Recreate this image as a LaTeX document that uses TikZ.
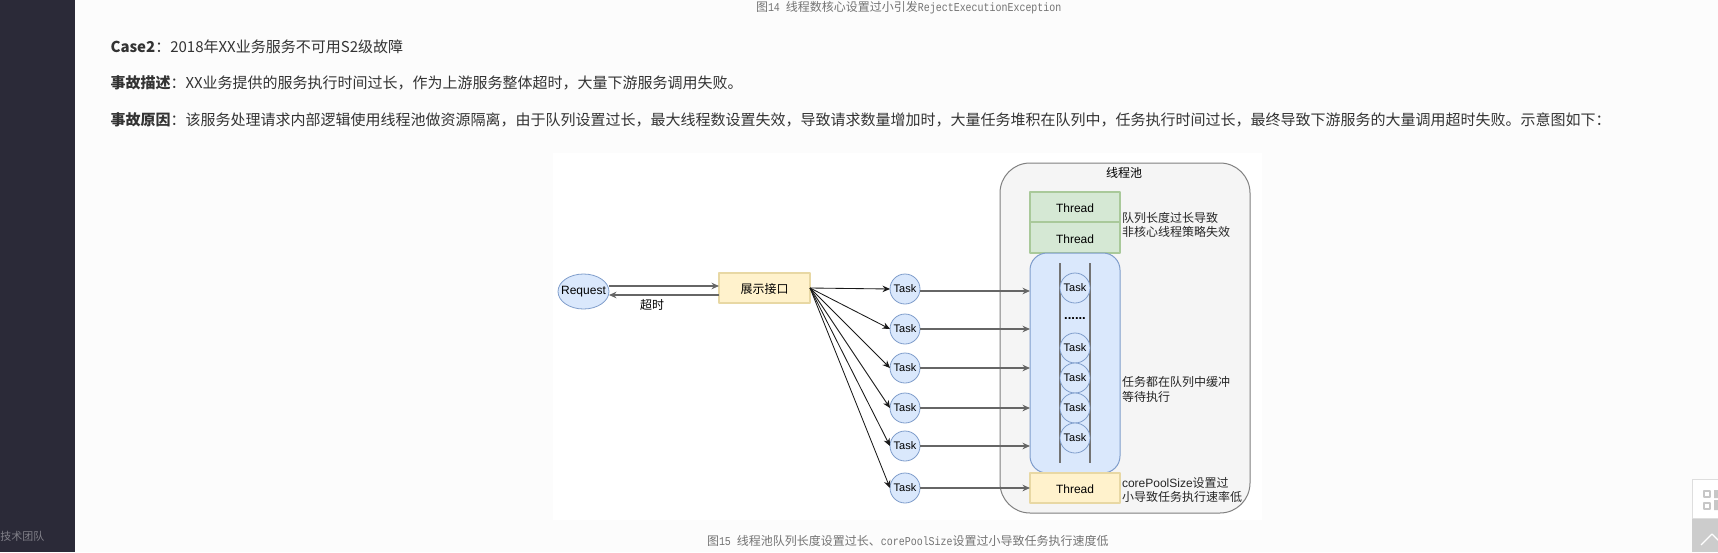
\documentclass[tikz,border=0pt]{standalone}
\usepackage{fontspec}
\usetikzlibrary{shapes.geometric,arrows.meta}
\setmainfont{Liberation Sans}
\newfontfamily\cjk{Noto Sans CJK SC}
\newfontfamily\capmono[FakeStretch=0.83]{Liberation Mono}
\definecolor{sidebg}{HTML}{2B2A38}
\definecolor{bluefill}{HTML}{DAE8FC}
\definecolor{bluedraw}{HTML}{7F9DCB}
\definecolor{greenfill}{HTML}{D5E8D4}
\definecolor{greendraw}{HTML}{A9C99A}
\definecolor{yellowfill}{HTML}{FFF2CC}
\definecolor{yellowdraw}{HTML}{E8D8A4}
\definecolor{poolfill}{HTML}{F5F5F5}
\newcommand{\zh}[1]{{\cjk\fontsize{12}{14}\selectfont #1}}
\begin{document}
\begin{tikzpicture}[x=1pt,y=-1pt,>={Stealth[length=7.5pt,width=6.5pt]},line join=round,
	every node/.style={outer sep=0pt,inner sep=0pt},
	task/.style={circle,draw=bluedraw,fill=bluefill,line width=.8pt,minimum size=30pt,font=\fontsize{11}{13}\selectfont},
	thread/.style={draw=#1draw,fill=#1fill,line width=1.3pt,minimum width=90pt,minimum height=30pt,text height=11pt,text depth=0pt,font=\fontsize{12}{14}\selectfont},
	note/.style={anchor=west,align=left,text=black!85,font=\fontsize{12}{14.3}\selectfont},
	para/.style={anchor=base west,text=black!80,font=\cjk\fontsize{15}{18}\selectfont},
	capt/.style={anchor=base west,text=black!55,font=\capmono\fontsize{12}{14}\selectfont},
	flow/.style={->,black!60,line width=1.300pt},
	fan/.style={->,black!90,line width=.85pt}]
	\useasboundingbox (0,0) rectangle (1718,552);
	\fill[white!99!black] (0,0) rectangle (1718,552);
	\fill[white] (553,153) rectangle (1262,520);
	\fill[sidebg] (0,0) rectangle (75,552);
	\node[anchor=west,text=white!40!sidebg,font=\cjk\fontsize{11}{14}\selectfont] (team) at (0.500,536) {技术团队};
	% page text
	\node[capt] (capa) at (756,11) {\zh{图}14 \zh{线程数核心设置过小引发}RejectExecutionException};
	\node[para] (linea) at (110.500,52) {{\bfseries Case2}：2018年XX业务服务不可用S2级故障};
	\node[para] (lineb) at (110.500,88) {{\bfseries 事故描述}：XX业务提供的服务执行时间过长，作为上游服务整体超时，大量下游服务调用失败。};
	\node[para] (linec) at (110.500,125) {{\bfseries 事故原因}：该服务处理请求内部逻辑使用线程池做资源隔离，由于队列设置过长，最大线程数设置失效，导致请求数量增加时，大量任务堆积在队列中，任务执行时间过长，最终导致下游服务的大量调用超时失败。示意图如下：};
	\node[capt] (capb) at (707,545) {\zh{图}15 \zh{线程池队列长度设置过长、}corePoolSize\zh{设置过小导致任务执行速度低}};
	% left side
	\node[ellipse,draw=bluedraw,fill=bluefill,line width=.8pt,inner xsep=-8pt,minimum width=51pt,minimum height=35pt,font=\fontsize{12}{14}\selectfont] (req) at (583.500,291.500) {Request};
	\node[thread=yellow,minimum width=91pt] (iface) at (764.500,288) {\zh{展示接口}};
	\draw[flow] ([yshift=5.500pt]req.east) -- ([yshift=2pt]iface.west);
	\draw[flow] ([yshift=-7pt]iface.west) -- ([yshift=-3.500pt]req.east);
	\node (timeout) at (652,305) {\zh{超时}};
	% pool
	\node[rectangle,draw=black!50,fill=poolfill,line width=1pt,rounded corners=30pt,minimum width=250pt,minimum height=350pt] (pool) at (1125,338) {};
	\node (poolname) at (1124,173) {\zh{线程池}};
	\node[thread=green] (threada) at (1075,207) {Thread};
	\node[thread=green,minimum height=31pt] (threadb) at (1075,237.500) {Thread};
	\node[draw=bluedraw,fill=bluefill,line width=1pt,rounded corners=17pt,minimum width=90pt,minimum height=220pt] (queue) at (1075,363) {};
	\node[thread=yellow] (threadc) at (1075,488) {Thread};
	\draw[black!55,line width=1.200pt] ([xshift=-15pt,yshift=-10pt]queue.north) -- ([xshift=-15pt,yshift=10pt]queue.south);
	\draw[black!55,line width=1.200pt] ([xshift=15pt,yshift=-10pt]queue.north) -- ([xshift=15pt,yshift=10pt]queue.south);
	\foreach \i/\y in {a/288,b/348,c/378,d/408,e/438}
		\node[task] (wait\i) at (1075,\y) {Task};
	\node[font=\bfseries\fontsize{13}{13}\selectfont] (dots) at (1075,319) {......};
	\node[note] (notea) at (1122,225) {\zh{队列长度过长导致}\\\zh{非核心线程策略失效}};
	\node[note] (noteb) at (1122,389.500) {\zh{任务都在队列中缓冲}\\\zh{等待执行}};
	\node[note] (notec) at (1122,490) {corePoolSize\zh{设置过}\\\zh{小导致任务执行速率低}};
	% incoming tasks
	\foreach \i/\y/\d in {1/289/-2,2/329/0,3/368/0,4/408/0,5/446/0}{
		\node[task] (task\i) at (905,\y) {Task};
		\draw[fan] (iface.east) -- (task\i.west);
		\draw[flow] ([yshift=\d pt]task\i.east) -- ([yshift=\d pt]task\i.east -| queue.west);
	}
	\node[task] (task6) at (905,488) {Task};
	\draw[fan] (iface.east) -- (task6.west);
	\draw[flow] (task6.east) -- (threadc.west);
	% corner widget
	\fill[black!20] (1692,518) rectangle (1718,552);
	\draw[black!13,fill=white] (1692,479) rectangle (1719,518);
	\draw[black!22,line width=1.500pt] (1704,491) rectangle (1710,497) (1704,503) rectangle (1710,509);
	\fill[black!22] (1714,490) rectangle (1718,498) (1714,500) rectangle (1718,510);
	\draw[white,line width=1.300pt] (1701,545) -- (1712,534) -- (1723,545);
\end{tikzpicture}
\end{document}
